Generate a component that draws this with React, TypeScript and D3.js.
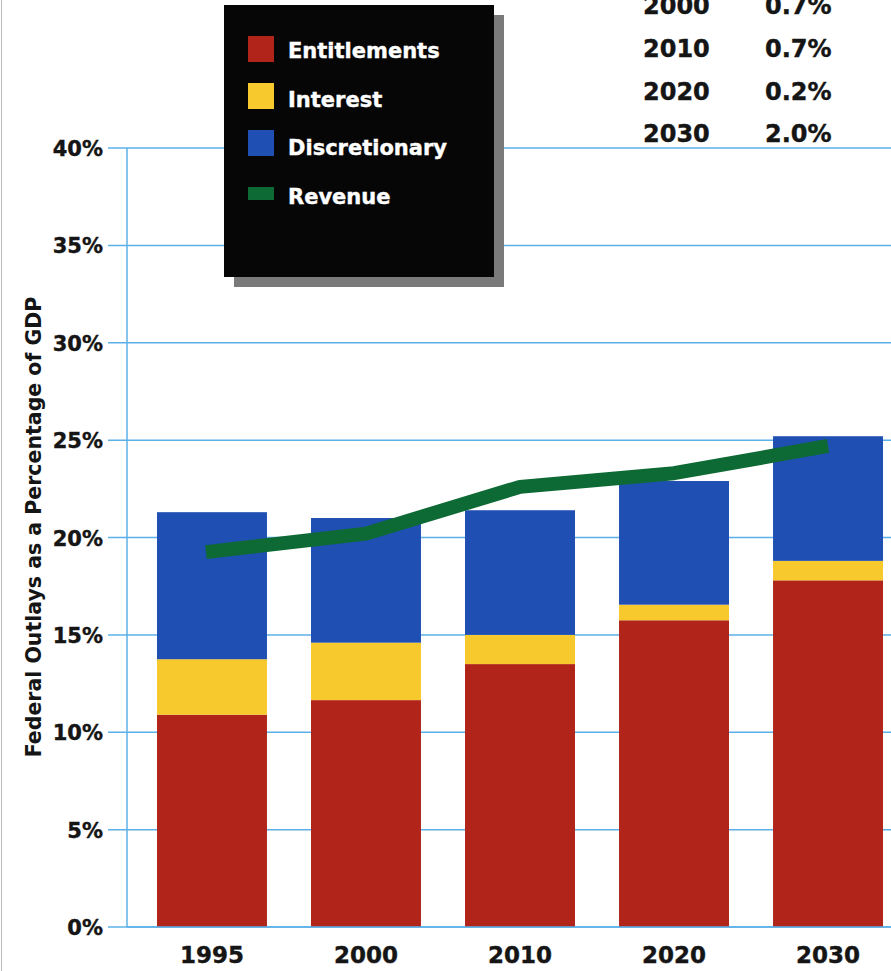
import React from "react";
import * as d3 from "d3";

const years = ["1995", "2000", "2010", "2020", "2030"];
const entitlements = [10.9, 11.65, 13.5, 15.75, 17.8];
const interest = [2.85, 2.95, 1.5, 0.8, 1.0];
const discretionary = [7.55, 6.4, 6.4, 6.35, 6.4];
const revenue = [19.25, 20.2, 22.6, 23.3, 24.7];
const yTicks = [0, 5, 10, 15, 20, 25, 30, 35, 40];
const tableYears = ["2000", "2010", "2020", "2030"];
const tableValues = ["0.7%", "0.7%", "0.2%", "2.0%"];
const seriesNames = ["Entitlements", "Interest", "Discretionary", "Revenue"];

const W = 891;
const H = 971;
const colors = { Entitlements: "#b0241a", Interest: "#f8c92c", Discretionary: "#1f4fb3", Revenue: "#0e6a34" };
const FONT = "'DejaVu Sans', 'Liberation Sans', Arial, sans-serif";

export default function App() {
  const y = d3.scaleLinear().domain([0, 40]).range([927, 148]);
  const x = d3.scaleBand().domain(years).range([157, 883]).paddingInner(0.286).paddingOuter(0);
  const rows = years.map((yr, i) => ({
    year: yr,
    Entitlements: entitlements[i],
    Interest: interest[i],
    Discretionary: discretionary[i],
  }));
  const stack = d3.stack<any>().keys(["Entitlements", "Interest", "Discretionary"]);
  const layers = stack(rows);
  const line = d3
    .line<number>()
    .x((_, i) => x(years[i])! + x.bandwidth() / 2 - (i === 0 ? 6 : 0))
    .y((d) => y(d));

  return (
    <svg width={W} height={H} style={{ position: "absolute", left: 0, top: 0, background: "#fff" }}>
      <rect x={0} y={0} width={W} height={H} fill="#fff" />
      <line x1={1.5} x2={1.5} y1={0} y2={H} stroke="#bbb" strokeWidth={1} />
      {/* gridlines */}
      {yTicks.map((t) => (
        <g key={t}>
          <line x1={108} x2={W} y1={y(t)} y2={y(t)} stroke="#5bb0ea" strokeWidth={1.5} />
          <text
            x={103}
            y={y(t) + 8}
            textAnchor="end"
            fontFamily={FONT}
            fontWeight="bold"
            fontSize={21}
            fill="#151515"
            stroke="#151515"
            strokeWidth={0.4}
          >
            {t}%
          </text>
        </g>
      ))}
      <line x1={127} x2={127} y1={y(40)} y2={y(0)} stroke="#5bb0ea" strokeWidth={1.5} />
      {/* bars */}
      {layers.map((layer) => (
        <g key={layer.key} fill={(colors as any)[layer.key]}>
          {layer.map((d, i) => (
            <rect
              key={i}
              x={x(years[i])}
              y={y(d[1])}
              width={x.bandwidth()}
              height={y(d[0]) - y(d[1])}
            />
          ))}
        </g>
      ))}
      <line x1={127} x2={W} y1={y(0)} y2={y(0)} stroke="#5bb0ea" strokeWidth={1.5} />
      {/* revenue line */}
      <path d={line(revenue)!} fill="none" stroke={colors.Revenue} strokeWidth={14} strokeLinejoin="round" />
      {/* x labels */}
      {years.map((yr) => (
        <text
          key={yr}
          x={x(yr)! + x.bandwidth() / 2}
          y={963}
          textAnchor="middle"
          fontFamily={FONT}
          fontWeight="bold"
          fontSize={23}
          fill="#151515"
          stroke="#151515"
          strokeWidth={0.4}
        >
          {yr}
        </text>
      ))}
      {/* y title */}
      <text
        transform={`translate(41,527) rotate(-90)`}
        textAnchor="middle"
        fontFamily={FONT}
        fontWeight="bold"
        fontSize={20.5}
        fill="#151515"
      >
        Federal Outlays as a Percentage of GDP
      </text>
      {/* legend */}
      <rect x={234} y={15} width={270} height={272} fill="#7a7a7a" />
      <rect x={224} y={5} width={270} height={272} fill="#060606" />
      {seriesNames.map((s, i) => (
        <g key={s}>
          {s === "Revenue" ? (
            <rect x={248} y={187} width={26} height={13} fill={colors.Revenue} />
          ) : (
            <rect x={248} y={36 + i * 47} width={26} height={26} fill={(colors as any)[s]} />
          )}
          <text
            x={288}
            y={58 + i * 48.7}
            fontFamily={FONT}
            fontWeight="bold"
            fontSize={21}
            fill="#fff"
            stroke="#fff"
            strokeWidth={0.4}
          >
            {s}
          </text>
        </g>
      ))}
      {/* table */}
      {tableYears.map((t, i) => (
        <g key={t} fontFamily={FONT} fontWeight="bold" fontSize={24} fill="#151515" stroke="#151515" strokeWidth={0.4}>
          <text x={643} y={14 + i * 42.8}>
            {t}
          </text>
          <text x={765} y={14 + i * 42.8}>
            {tableValues[i]}
          </text>
        </g>
      ))}
    </svg>
  );
}
